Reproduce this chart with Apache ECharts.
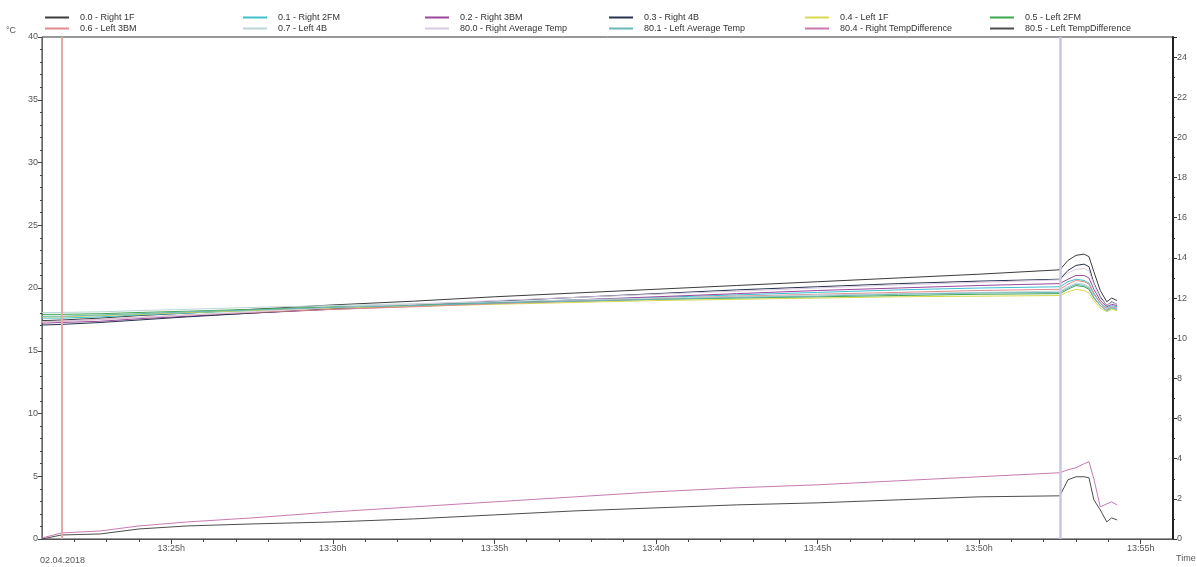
<!DOCTYPE html>
<html>
<head>
<meta charset="utf-8">
<script src="https://cdn.jsdelivr.net/npm/echarts@6/dist/echarts.min.js"></script>
<style>
  html, body { margin: 0; padding: 0; background: #fff; }
  #chart { width: 1197px; height: 567px; }
</style>
</head>
<body>
<div id="chart"></div>
<script>
// time in minutes after 13:00h
const times = [21.0, 21.6, 22.8, 24.0, 25.5, 27.5, 30, 32.5, 35, 37.5, 40, 42.5, 45, 47.5, 50, 52.5, 52.75, 53.0, 53.25, 53.4, 53.55, 53.75, 53.95, 54.1, 54.27];

// temperatures (left axis, °C)
const right1F  = [17.4, 17.45, 17.6, 17.8, 18.0, 18.3, 18.65, 18.95, 19.3, 19.6, 19.9, 20.2, 20.5, 20.8, 21.1, 21.45, 22.2, 22.6, 22.7, 22.5, 21.3, 19.8, 18.9, 19.2, 19.0];
const right2FM = [17.6, 17.6, 17.7, 17.85, 18.0, 18.2, 18.45, 18.65, 18.85, 19.05, 19.25, 19.45, 19.65, 19.85, 20.0, 20.1, 20.5, 20.7, 20.6, 20.4, 19.6, 18.8, 18.4, 18.6, 18.5];
const right3BM = [17.2, 17.25, 17.35, 17.55, 17.75, 18.0, 18.3, 18.55, 18.8, 19.05, 19.3, 19.55, 19.8, 20.0, 20.2, 20.35, 20.7, 21.0, 21.0, 20.8, 19.9, 19.0, 18.5, 18.7, 18.6];
const right4B  = [17.05, 17.1, 17.25, 17.45, 17.7, 18.0, 18.35, 18.65, 18.95, 19.25, 19.55, 19.85, 20.1, 20.35, 20.55, 20.7, 21.4, 21.8, 21.9, 21.7, 20.4, 19.3, 18.6, 18.9, 18.7];
const left1F   = [17.7, 17.7, 17.8, 17.9, 18.05, 18.2, 18.4, 18.55, 18.7, 18.85, 19.0, 19.1, 19.2, 19.3, 19.35, 19.4, 19.7, 19.9, 19.8, 19.6, 19.0, 18.4, 18.1, 18.3, 18.2];
const left2FM  = [17.9, 17.9, 17.95, 18.05, 18.15, 18.3, 18.5, 18.65, 18.8, 18.95, 19.1, 19.2, 19.3, 19.4, 19.5, 19.55, 19.9, 20.2, 20.1, 19.9, 19.2, 18.6, 18.2, 18.4, 18.3];
const left3BM  = [17.3, 17.35, 17.5, 17.65, 17.85, 18.05, 18.3, 18.5, 18.75, 18.95, 19.15, 19.35, 19.5, 19.65, 19.8, 19.9, 20.3, 20.6, 20.5, 20.3, 19.5, 18.8, 18.3, 18.5, 18.4];
const left4B   = [18.05, 18.05, 18.1, 18.2, 18.3, 18.45, 18.6, 18.75, 18.9, 19.05, 19.2, 19.3, 19.45, 19.55, 19.65, 19.75, 20.1, 20.4, 20.3, 20.1, 19.3, 18.6, 18.2, 18.4, 18.3];
const rightAvg = [17.3, 17.35, 17.5, 17.65, 17.85, 18.1, 18.45, 18.7, 19.0, 19.25, 19.5, 19.75, 20.0, 20.25, 20.45, 20.65, 21.2, 21.5, 21.55, 21.35, 20.3, 19.2, 18.6, 18.85, 18.7];
const leftAvg  = [17.75, 17.75, 17.85, 17.95, 18.1, 18.25, 18.45, 18.6, 18.8, 18.95, 19.1, 19.25, 19.35, 19.5, 19.6, 19.65, 20.0, 20.3, 20.2, 20.0, 19.25, 18.6, 18.2, 18.45, 18.3];

// differences (right axis)
const rightDiff = [0.05, 0.3, 0.4, 0.65, 0.85, 1.05, 1.35, 1.6, 1.85, 2.1, 2.35, 2.55, 2.7, 2.9, 3.1, 3.3, 3.45, 3.55, 3.75, 3.85, 3.0, 1.6, 1.75, 1.85, 1.7];
const leftDiff  = [0.0, 0.2, 0.25, 0.5, 0.65, 0.75, 0.85, 1.0, 1.2, 1.4, 1.55, 1.7, 1.8, 1.95, 2.1, 2.15, 2.95, 3.1, 3.1, 3.05, 1.95, 1.45, 0.85, 1.05, 0.95];

// series names, in legend order (two per legend column)
const names = ['0.0 - Right 1F', '0.6 - Left 3BM', '0.1 - Right 2FM', '0.7 - Left 4B',
  '0.2 - Right 3BM', '80.0 - Right Average Temp', '0.3 - Right 4B', '80.1 - Left Average Temp',
  '0.4 - Left 1F', '80.4 - Right TempDifference', '0.5 - Left 2FM', '80.5 - Left TempDifference'];

// axis ticks
const majorMinutes = [25, 30, 35, 40, 45, 50, 55];
const minorMinutes = [22, 23, 24, 25, 26, 27, 28, 29, 30, 31, 32, 33, 34, 35, 36, 37, 38, 39, 40,
  41, 42, 43, 44, 45, 46, 47, 48, 49, 50, 51, 52, 53, 54, 55];
const cursorTimes = [21.62, 52.52];
const dateLabel = '02.04.2018';

const chart = echarts.init(document.getElementById('chart'));

function pts(vals) {
  return times.map((t, i) => [t, vals[i]]);
}

function line(name, vals, color, yIdx) {
  return {
    name: name,
    type: 'line',
    xAxisIndex: 0,
    yAxisIndex: yIdx || 0,
    data: pts(vals),
    symbol: 'none',
    lineStyle: { width: 1, color: color },
    itemStyle: { color: color },
    z: 3
  };
}

const colors = {
  r1F: '#3c3c3c', r2FM: '#3fbfd0', r3BM: '#9a479c', r4B: '#27324e',
  l1F: '#d7d84c', l2FM: '#3ea64e', l3BM: '#e08a8c', l4B: '#bdd5d6',
  rAvg: '#d9cbe2', lAvg: '#6cb6b8', rDiff: '#c77ab0', lDiff: '#4d4d4d'
};

const series = [
  line(names[0], right1F, colors.r1F),
  line(names[2], right2FM, colors.r2FM),
  line(names[4], right3BM, colors.r3BM),
  line(names[6], right4B, colors.r4B),
  line(names[8], left1F, colors.l1F),
  line(names[10], left2FM, colors.l2FM),
  line(names[1], left3BM, colors.l3BM),
  line(names[3], left4B, colors.l4B),
  line(names[5], rightAvg, colors.rAvg),
  line(names[7], leftAvg, colors.lAvg),
  line(names[9], rightDiff, colors.rDiff, 1),
  line(names[11], leftDiff, colors.lDiff, 1)
];

// cursor lines
series[0].markLine = {
  silent: true,
  symbol: 'none',
  label: { show: false },
  data: [
    { xAxis: cursorTimes[0], lineStyle: { color: '#e6a9a6', width: 2, type: 'solid' } },
    { xAxis: cursorTimes[1], lineStyle: { color: '#c9c6e3', width: 2.5, type: 'solid' } }
  ]
};

const legendCols = [40, 238, 420, 604, 800, 985];
const legends = legendCols.map((x, i) => ({
  orient: 'vertical',
  left: x,
  top: 8,
  itemWidth: 24,
  itemHeight: 2,
  itemGap: 2,
  icon: 'rect',
  data: [names[i * 2], names[i * 2 + 1]],
  textStyle: { fontSize: 9, color: '#333', fontFamily: 'Liberation Sans', padding: [0, 0, 0, 6] }
}));

const labelFont = { fontSize: 9, color: '#555', fontFamily: 'Liberation Sans' };

const option = {
  backgroundColor: '#ffffff',
  animation: false,
  legend: legends,
  grid: {
    left: 42, right: 24, top: 37, bottom: 28,
    show: true, borderColor: '#333', borderWidth: 1
  },
  graphic: [
    { type: 'text', left: 6, top: 26, style: { text: '°C', fontSize: 9, fill: '#555', fontFamily: 'Liberation Sans' } },
    { type: 'text', left: 1176, top: 554, style: { text: 'Time', fontSize: 9, fill: '#555', fontFamily: 'Liberation Sans' } },
    { type: 'text', left: 40, top: 556, style: { text: dateLabel, fontSize: 9, fill: '#555', fontFamily: 'Liberation Sans' } }
  ],
  xAxis: [
    {
      type: 'value', min: 21, max: 56, position: 'bottom',
      axisLine: { show: true, lineStyle: { color: '#555', width: 1 } },
      axisTick: { show: true, customValues: majorMinutes, length: 5, lineStyle: { color: '#444' } },
      axisLabel: Object.assign({
        customValues: majorMinutes, margin: 5,
        formatter: v => '13:' + v + 'h'
      }, labelFont),
      splitLine: { show: false }
    },
    {
      type: 'value', min: 21, max: 56, position: 'bottom',
      axisLine: { show: false },
      axisTick: { show: true, customValues: minorMinutes, length: 3, lineStyle: { color: '#444' } },
      axisLabel: { show: false },
      splitLine: { show: false }
    }
  ],
  yAxis: [
    {
      type: 'value', min: 0, max: 40, interval: 5, position: 'left',
      axisLine: { show: true, lineStyle: { color: '#666', width: 1 } },
      axisTick: { show: true, length: 4, lineStyle: { color: '#444' } },
      minorTick: { show: true, splitNumber: 5, length: 2, lineStyle: { color: '#444' } },
      axisLabel: Object.assign({ margin: 4 }, labelFont),
      splitLine: { show: false }
    },
    {
      type: 'value', min: 0, max: 25, interval: 2, position: 'right',
      axisLine: { show: true, lineStyle: { color: '#222', width: 2 } },
      axisTick: { show: true, length: 4, lineStyle: { color: '#333' } },
      minorTick: { show: true, splitNumber: 2, length: 2, lineStyle: { color: '#333' } },
      axisLabel: Object.assign({ margin: 4, showMaxLabel: false }, labelFont),
      splitLine: { show: false }
    }
  ],
  series: series
};

chart.setOption(option);
</script>
</body>
</html>
